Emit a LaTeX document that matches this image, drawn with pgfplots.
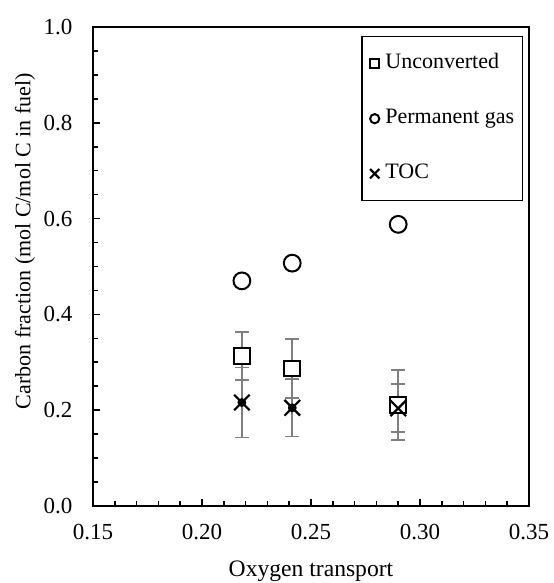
\documentclass[border=0pt]{standalone}
\usepackage{pgfplots}
\pgfplotsset{compat=1.18}
\usepackage{fontspec}
\setmainfont{Liberation Serif}
\definecolor{errgray}{RGB}{127,127,127}
\pgfplotsset{smallmarklegend/.style={legend image code/.code={\draw[##1, mark size=2.3pt] plot coordinates {(0pt,0pt)};}},
  smallxlegend/.style={legend image code/.code={\draw[##1, mark size=3.3pt] plot coordinates {(0pt,0pt)};}}}
\begin{document}
\begin{tikzpicture}[font=\fontsize{11pt}{13.2pt}\selectfont]
\useasboundingbox (-46.5pt,-38.5pt) rectangle (230pt,253pt);
\begin{axis}[
  at={(0pt,0pt)}, anchor=south west,
  scale only axis, width=218pt, height=239.5pt,
  xmin=0.15, xmax=0.35, ymin=0, ymax=1,
  xtick={0.15,0.20,0.25,0.30,0.35},
  ytick={0,0.2,0.4,0.6,0.8,1.0},
  minor xtick={0.16,0.17,0.18,0.19,0.21,0.22,0.23,0.24,0.26,0.27,0.28,0.29,0.31,0.32,0.33,0.34},
  minor ytick={0.05,0.1,0.15,0.25,0.3,0.35,0.45,0.5,0.55,0.65,0.7,0.75,0.85,0.9,0.95},
  xtick pos=bottom, ytick pos=left,
  tick align=inside,
  major tick length=3.5pt, minor tick length=2.5pt,
  every tick/.style={black, line width=0.8pt},
  axis line style={black, line width=1pt},
  /pgf/number format/assume math mode=true,
  xticklabel style={font=\fontsize{11.5pt}{13.8pt}\selectfont, /pgf/number format/.cd, fixed, fixed zerofill, precision=2, /tikz/.cd, yshift=-5.8pt},
  yticklabel style={font=\fontsize{11.5pt}{13.8pt}\selectfont, /pgf/number format/.cd, fixed, fixed zerofill, precision=1, /tikz/.cd, xshift=-6.8pt},
  xlabel={Oxygen transport},
  xlabel style={font=\fontsize{11.8pt}{14pt}\selectfont, at={(axis description cs:0.5,0)}, anchor=north, yshift=-24pt},
  ylabel={Carbon fraction (mol C/mol C in fuel)},
  ylabel style={at={(axis description cs:-0.156,0.553)}, anchor=center, rotate=0},
  legend style={at={(rel axis cs:0.986,0.981)}, anchor=north east,
    draw=black, line width=0.6pt, fill=white,
    inner xsep=4pt, inner ysep=8.5pt,
    nodes={inner sep=0pt, text height=7.5pt, text depth=2.5pt, anchor=west},
    row sep=17.5pt, column sep=3pt},
  legend cell align=left,
]
% error bars (drawn first, beneath the markers)
\addplot[forget plot, only marks, mark=none,
  error bars/.cd, y dir=both, y explicit,
  error bar style={draw=errgray, line width=0.9pt},
  error mark options={rotate=90, mark size=3.5pt, line width=0.9pt, draw=errgray}]
  coordinates {
  (0.2183,0.313) +- (0,0.050)
  (0.2414,0.287) +- (0,0.061)
  (0.2900,0.211) +- (0,0.073)
};
\addplot[forget plot, only marks, mark=none,
  error bars/.cd, y dir=both, y explicit,
  error bar style={draw=errgray, line width=0.9pt},
  error mark options={rotate=90, mark size=3.5pt, line width=0.9pt, draw=errgray}]
  coordinates {
  (0.2183,0.216) +- (0,0.073)
  (0.2414,0.205) +- (0,0.060)
  (0.2900,0.204) +- (0,0.050)
};
% markers
\addplot[only marks, mark=square*, mark size=3.9pt,
  mark options={draw=black, fill=white, line width=1pt, solid}, smallmarklegend]
  coordinates {(0.2183,0.313) (0.2414,0.287) (0.2900,0.211)};
\addlegendentry{Unconverted}
\addplot[only marks, mark=*, mark size=4.2pt,
  mark options={draw=black, fill=white, line width=1pt, solid}, smallmarklegend]
  coordinates {(0.2183,0.470) (0.2414,0.507) (0.2900,0.588)};
\addlegendentry{Permanent gas}
\addplot[only marks, mark=x, mark size=5.5pt,
  mark options={draw=black, line width=1.1pt, solid}, smallxlegend]
  coordinates {(0.2183,0.216) (0.2414,0.205) (0.2900,0.204)};
\addlegendentry{TOC}
\end{axis}
\end{tikzpicture}
\end{document}
